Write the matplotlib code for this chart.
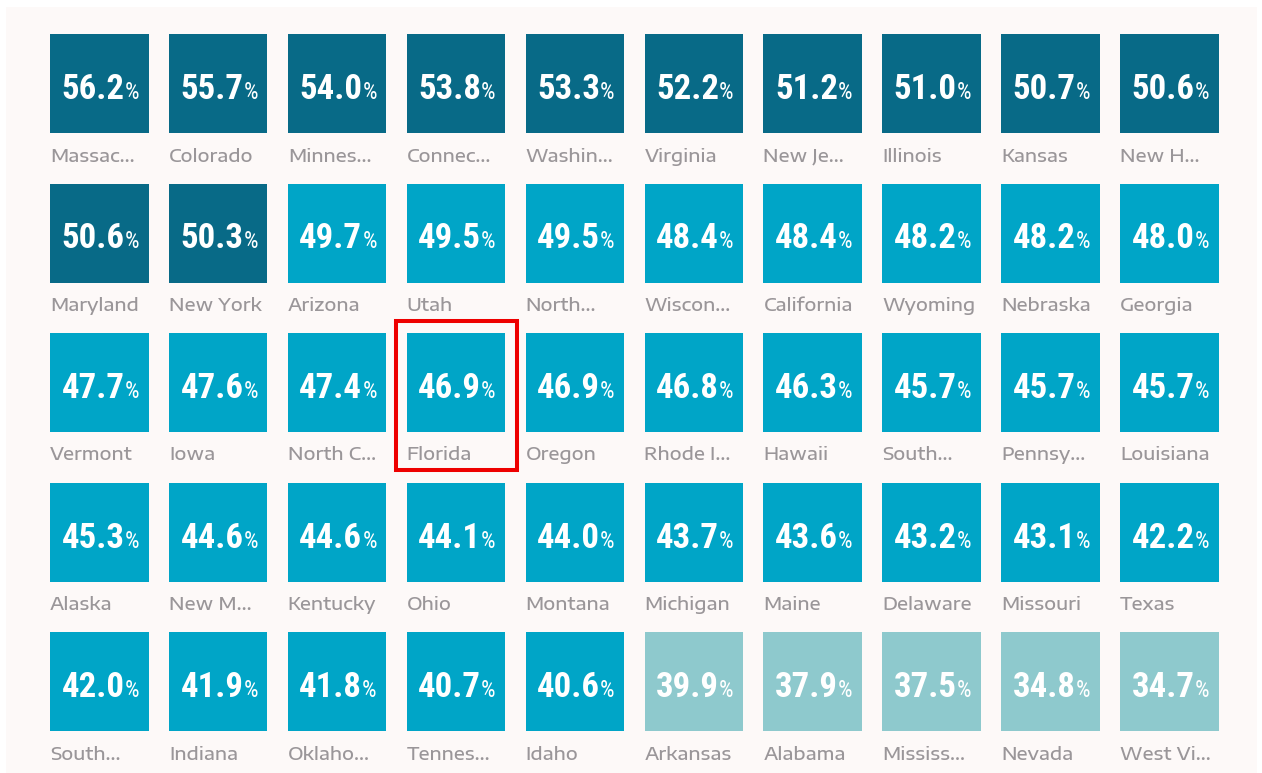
import matplotlib.pyplot as plt
from matplotlib.patches import Rectangle

# state share values, ordered as in the grid (row by row)
states = ["Massac...", "Colorado", "Minnes...", "Connec...", "Washin...",
          "Virginia", "New Je...", "Illinois", "Kansas", "New H...",
          "Maryland", "New York", "Arizona", "Utah", "North...",
          "Wiscon...", "California", "Wyoming", "Nebraska", "Georgia",
          "Vermont", "Iowa", "North C...", "Florida", "Oregon",
          "Rhode I...", "Hawaii", "South...", "Pennsy...", "Louisiana",
          "Alaska", "New M...", "Kentucky", "Ohio", "Montana",
          "Michigan", "Maine", "Delaware", "Missouri", "Texas",
          "South...", "Indiana", "Oklaho...", "Tennes...", "Idaho",
          "Arkansas", "Alabama", "Mississ...", "Nevada", "West Vi..."]
values = [56.2, 55.7, 54.0, 53.8, 53.3, 52.2, 51.2, 51.0, 50.7, 50.6,
          50.6, 50.3, 49.7, 49.5, 49.5, 48.4, 48.4, 48.2, 48.2, 48.0,
          47.7, 47.6, 47.4, 46.9, 46.9, 46.8, 46.3, 45.7, 45.7, 45.7,
          45.3, 44.6, 44.6, 44.1, 44.0, 43.7, 43.6, 43.2, 43.1, 42.2,
          42.0, 41.9, 41.8, 40.7, 40.6, 39.9, 37.9, 37.5, 34.8, 34.7]
highlight = "Florida"

ncols = 10
x0, y0 = 50, 34
pitch_x, pitch_y = 118.9, 149.5
tile_w, tile_h = 98.5, 99

def tile_color(v):
    if v >= 50.3:
        return "#086a87"
    if v >= 40.0:
        return "#00a5c7"
    return "#8ec9cd"

fig = plt.figure(figsize=(12.62, 7.73), dpi=100)
fig.patch.set_facecolor("white")
ax = fig.add_axes([0, 0, 1, 1])
ax.set_xlim(0, 1262)
ax.set_ylim(773, 0)
ax.axis("off")

ax.add_patch(Rectangle((6, 7), 1251, 770, facecolor="#fdf9f8", edgecolor="none", zorder=0))

num_font = ["Roboto Condensed", "DejaVu Sans"]
lab_font = ["Encode Sans Expanded", "DejaVu Sans"]
renderer = fig.canvas.get_renderer()

for i, (name, v) in enumerate(zip(states, values)):
    row, col = divmod(i, ncols)
    left = x0 + col * pitch_x
    top = y0 + row * pitch_y
    ax.bar(left, tile_h, width=tile_w, bottom=top, align="edge",
           color=tile_color(v), zorder=1)

    base = top + 65
    t1 = ax.text(0, base, f"{v:.1f}", ha="left", va="baseline", color="white",
                 fontsize=25, fontweight="bold", family=num_font, zorder=3)
    t2 = ax.text(0, base, "%", ha="left", va="baseline", color="white",
                 fontsize=16.5, family=num_font, zorder=3)
    w1 = t1.get_window_extent(renderer).width
    w2 = t2.get_window_extent(renderer).width
    start = left + tile_w / 2 - (w1 + w2) / 2 + 1
    t1.set_x(start)
    t2.set_x(start + w1)

    ax.text(left, top + 127.5, name, ha="left", va="baseline", color="#9a9699",
            fontsize=13.2, fontweight=500, family=lab_font, zorder=3)

    if name == highlight:
        ax.add_patch(Rectangle((left - 11, top - 12), 121, 149, fill=False,
                               edgecolor="#ee0000", linewidth=2.9, zorder=4))

fig.savefig("out.png", dpi=100, facecolor=fig.get_facecolor())
